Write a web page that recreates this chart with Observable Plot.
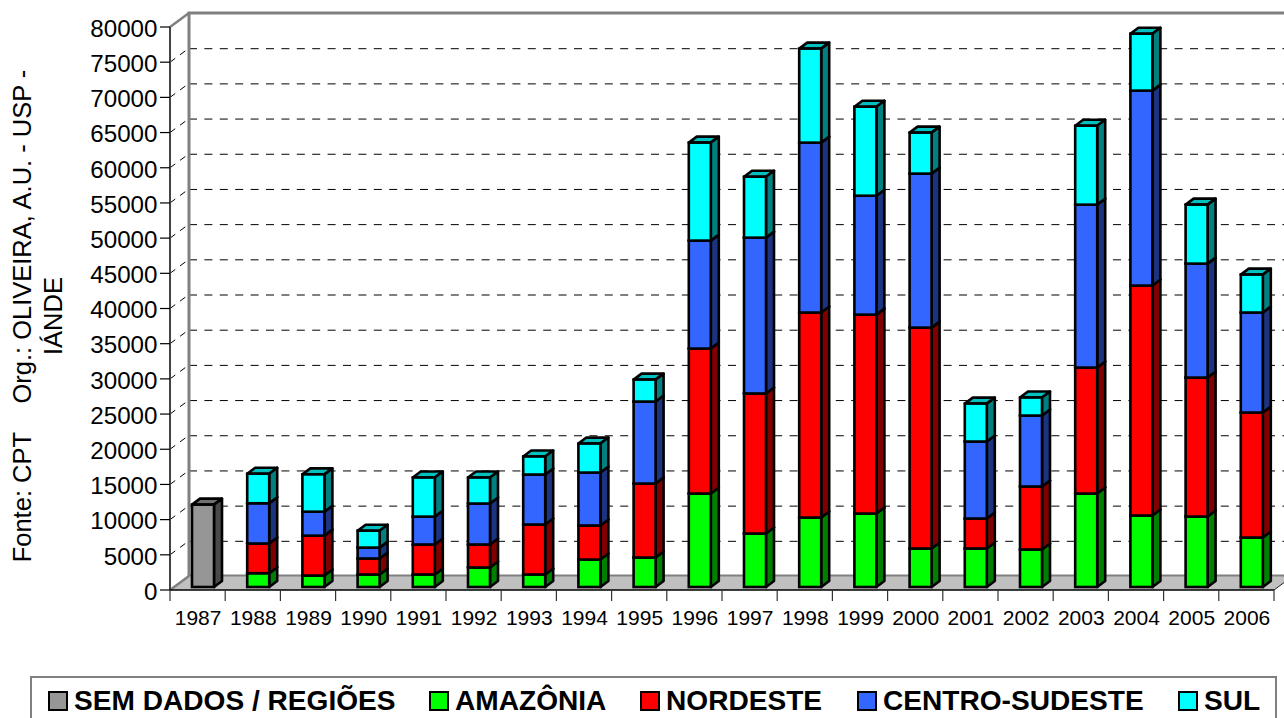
<!DOCTYPE html>
<html><head><meta charset="utf-8">
<script src="https://cdn.jsdelivr.net/npm/d3@7"></script>
<script src="https://cdn.jsdelivr.net/npm/@observablehq/plot@0.6"></script>
<style>
html,body{margin:0;padding:0;background:#fff;overflow:hidden;width:1284px;height:718px}
body{font-family:"Liberation Sans",Arial,sans-serif;position:relative}
#legend{position:absolute;left:30px;top:676px;width:1243px;height:60px;border:2px solid #808080;box-sizing:content-box;font-weight:bold;font-size:28.1px;color:#000;white-space:nowrap}
#legend .it{position:absolute;top:8px;display:flex;align-items:center;line-height:30px}
#legend .sw{display:inline-block;width:16px;height:16px;border:2.5px solid #000;margin-right:6px}
</style></head><body>
<div id="chart"></div>
<div id="legend"></div>
<script>
const years = ["1987","1988","1989","1990","1991","1992","1993","1994","1995","1996","1997","1998","1999","2000","2001","2002","2003","2004","2005","2006"];
const semDados   = [11700,0,0,0,0,0,0,0,0,0,0,0,0,0,0,0,0,0,0,0];
const amazonia   = [0,1960,1630,1780,1780,2770,1780,3900,4190,13280,7600,9870,10440,5470,5470,5330,13280,10160,10010,7030];
const nordeste   = [0,4220,5670,2270,4260,3270,7100,4840,10510,20600,19900,29130,28260,31390,4260,8950,17900,32670,19750,17760];
const centroSul  = [0,5720,3400,1550,3960,5820,7100,7520,11650,15340,22140,24140,16900,21880,10940,10080,23150,27700,16190,14210];
const sul        = [0,4200,5300,2400,5550,3690,2560,4120,3120,13920,8660,13360,12650,5820,5390,2560,11220,8090,8380,5390];

const seriesNames = ["SEM DADOS / REGIÕES","AMAZÔNIA","NORDESTE","CENTRO-SUDESTE","SUL"];
const seriesVals  = [semDados,amazonia,nordeste,centroSul,sul];
const frontCols   = ["#969696","#00ff00","#ff0000","#3366ff","#00ffff"];
const sideCols    = ["#4a4a4a","#008000","#800000","#1c3380","#008080"];
const topCols     = ["#707070","#00c000","#c00000","#264dc0","#00c0c0"];

const yTicks = d3.range(0,80001,5000);
const gridTicks = yTicks.slice(1,-1);
const axisLine1 = "Fonte: CPT\u00a0\u00a0\u00a0\u00a0Org.: OLIVEIRA, A.U. - USP -";
const axisLine2 = "IÁNDE";

const rows = [];
years.forEach((year,i)=>{
  let base = 0;
  seriesNames.forEach((s,k)=>{
    const v = seriesVals[k][i];
    if (v>0){ rows.push({year,series:s,k,y0:base,y1:base+v}); base+=v; }
  });
});

// 3-D projection of the chart box and of the bars, in pixels
const boxDX=19, boxDY=-14, barDX=8, barDY=-6, barLift=-3;

function box(index,{x,y},values,dim,ctx){
  const g=d3.select(ctx.document.createElementNS("http://www.w3.org/2000/svg","g"));
  const x0=dim.marginLeft, x1=dim.width-dim.marginRight, y0=y(0), yT=y(80000);
  const poly=(pts,fill)=>g.append("polygon").attr("points",pts.map(p=>p.join(",")).join(" ")).attr("fill",fill);
  const line=(a,b,c,d,col,w,dash)=>{const l=g.append("line").attr("x1",a).attr("y1",b).attr("x2",c).attr("y2",d).attr("stroke",col).attr("stroke-width",w);if(dash)l.attr("stroke-dasharray",dash);return l;};
  poly([[x0,y0],[x1,y0],[x1+boxDX,y0+boxDY],[x0+boxDX,y0+boxDY]],"#c0c0c0");
  line(x0+boxDX,y0+boxDY-0.5,x1+boxDX,y0+boxDY-0.5,"#808080",2);
  line(x0+boxDX,yT+boxDY,x0+boxDX,y0+boxDY,"#808080",3);
  line(x0+boxDX-1.5,yT+boxDY,x1+boxDX,yT+boxDY,"#808080",3);
  line(x0,yT,x0+boxDX,yT+boxDY,"#808080",2.5);
  line(x0,y0,x0+boxDX,y0+boxDY,"#808080",2.5);
  line(x1,y0,x1+boxDX,y0+boxDY,"#222",1);
  gridTicks.forEach(t=>line(x0,y(t),x0+boxDX,y(t)+boxDY,"#000",1,"6.5,6"));
  line(x0,yT,x0,y0,"#444",2);
  yTicks.forEach(t=>line(x0-10,y(t),x0,y(t),"#000",1.2));
  line(x0,y0,x1,y0,"#000",1.5);
  years.forEach(yr=>line(x(yr),y0,x(yr),y0+11,"#333",1.2));
  line(x1,y0,x1,y0+11,"#333",1.2);
  return g.node();
}

const chart = Plot.plot({
  width:1284,height:677,
  marginLeft:170,marginRight:10,marginTop:27,marginBottom:87,
  style:{fontFamily:"'Liberation Sans',Arial,sans-serif",background:"#fff",color:"#000"},
  x:{domain:years,padding:0,round:false,label:null},
  y:{domain:[0,80000],label:null},
  color:{domain:seriesNames,range:frontCols},
  marks:[
    Plot.ruleY(gridTicks,{dx:boxDX,dy:boxDY,stroke:"#000",strokeWidth:1,strokeDasharray:"8,7.4"}),
    box,
    Plot.axisY({ticks:yTicks,tickFormat:d=>String(d),tickSize:0,tickPadding:13,fontSize:24.2,dy:1.5,label:null}),
    Plot.axisX({tickSize:0,tickPadding:20,fontSize:21,label:null}),
    Plot.barY(rows,{
      x:"year",y1:"y0",y2:"y1",fill:"series",
      stroke:"#000",strokeWidth:2.6,
      insetLeft:22,insetRight:11.2,dy:barLift,
      render(index,scales,values,dim,ctx,next){
        const g=next(index,scales,values,dim,ctx);
        const rects=[...g.querySelectorAll("rect")];
        rects.forEach((r,n)=>{
          const d=rows[index[n]];
          const L=scales.x(d.year)+22, W=scales.x.bandwidth()-33.2;
          const T=scales.y(d.y1), B=scales.y(d.y0);
          const R=L+W;
          const mk=(pts,fill)=>{
            const p=ctx.document.createElementNS("http://www.w3.org/2000/svg","polygon");
            p.setAttribute("points",pts.map(q=>q.join(",")).join(" "));
            p.setAttribute("fill",fill);p.setAttribute("stroke","#000");p.setAttribute("stroke-width","2.6");p.setAttribute("stroke-linejoin","round");
            return p;
          };
          const parent=r.parentNode;
          parent.insertBefore(mk([[L,T],[R,T],[R+barDX,T+barDY],[L+barDX,T+barDY]],topCols[d.k]),r);
          parent.insertBefore(mk([[R,T],[R+barDX,T+barDY],[R+barDX,B+barDY],[R,B]],sideCols[d.k]),r);
        });
        return g;
      }
    }),
    Plot.text([axisLine1],{frameAnchor:"left",dx:-148,dy:7,rotate:-90,fontSize:25.5,fill:"#000",text:d=>d,textAnchor:"middle"}),
    Plot.text([axisLine2],{frameAnchor:"left",dx:-117,dy:7,rotate:-90,fontSize:25.5,fill:"#000",text:d=>d,textAnchor:"middle"})
  ]
});
document.getElementById("chart").appendChild(chart);

const legendX=[16,397,608,825,1146];
const lg=d3.select("#legend");
seriesNames.forEach((s,i)=>{
  const it=lg.append("div").attr("class","it").style("left",legendX[i]+"px");
  it.append("span").attr("class","sw").style("background",frontCols[i]);
  it.append("span").text(s);
});
</script>
</body></html>
